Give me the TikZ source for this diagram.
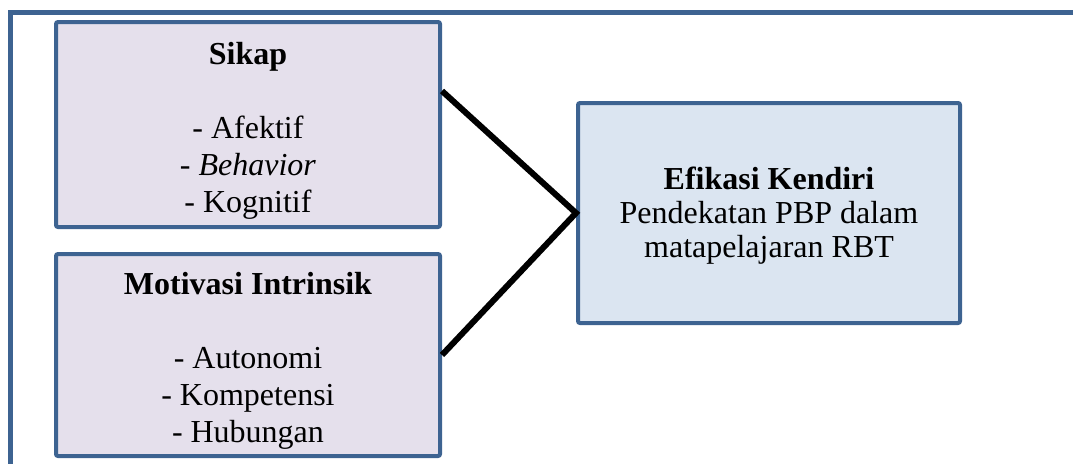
\documentclass[tikz,border=0pt]{standalone}
\usepackage{fontspec}
\setmainfont{Liberation Serif}
\usepackage{xcolor}
\usepackage{tikz}
\usetikzlibrary{positioning,calc}
\definecolor{bingkai}{RGB}{61,99,145}
\definecolor{ungu}{RGB}{229,224,236}
\definecolor{biru}{RGB}{219,229,241}

\begin{document}
\begin{tikzpicture}[x=1pt,y=-1pt,
    faktor/.style={draw=bingkai, line width=4pt, fill=ungu, rounded corners=2pt,
        minimum width=384pt, inner sep=0pt, align=center,
        font=\fontsize{32}{37}\selectfont},
    hasil/.style={faktor, fill=biru, minimum width=382pt, minimum height=220pt,
        font=\fontsize{32}{34}\selectfont},
    garis/.style={line width=6pt}]
    \useasboundingbox (0,0) rectangle (1073,463);
    \draw[bingkai, line width=5pt] (10.5,475) -- (10.5,12) -- (1085,12);
    \node[faktor, minimum height=205pt] (sikap) at (248,124.5)
        {\rule{0pt}{34pt}\textbf{Sikap}\\[37pt] - Afektif\\ - \textit{Behavior}\\ - Kognitif};
    \node[faktor, minimum height=202pt, below=23pt of sikap] (motivasi)
        {\rule{0pt}{34pt}\textbf{Motivasi Intrinsik}\\[37pt] - Autonomi\\ - Kompetensi\\ - Hubungan};
    \node[hasil] (efikasi) at (769,213)
        {\rule{0pt}{27pt}\textbf{Efikasi Kendiri}\\ Pendekatan PBP dalam\\ matapelajaran RBT};
    \draw[garis] ([yshift=33.5pt]sikap.east) -- (efikasi.west) -- (motivasi.east);
\end{tikzpicture}
\end{document}
